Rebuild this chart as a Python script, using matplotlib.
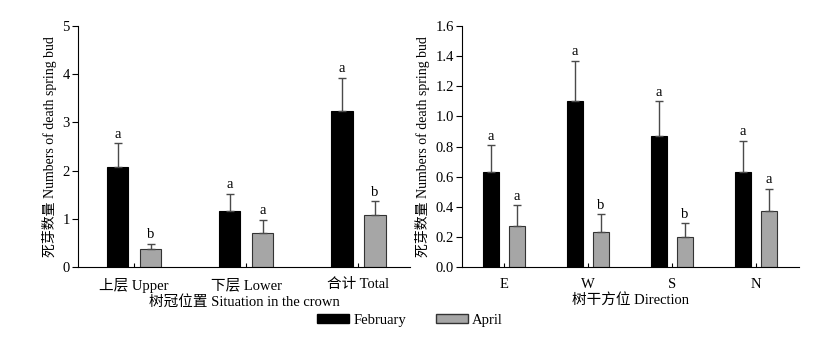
import matplotlib
matplotlib.use("Agg")
import matplotlib.pyplot as plt
import numpy as np
from matplotlib.patches import Patch

plt.rcParams['font.family'] = ['Liberation Serif', 'Noto Sans CJK SC']

# crown position panel
crown_labels = ["上层 Upper", "下层 Lower", "合计 Total"]
crown_feb = [2.07, 1.17, 3.23]
crown_feb_err = [0.50, 0.35, 0.70]
crown_apr = [0.37, 0.70, 1.07]
crown_apr_err = [0.11, 0.28, 0.30]
crown_feb_sig = ["a", "a", "a"]
crown_apr_sig = ["b", "a", "b"]

# trunk direction panel
dir_labels = ["E", "W", "S", "N"]
dir_feb = [0.63, 1.10, 0.87, 0.63]
dir_feb_err = [0.18, 0.27, 0.23, 0.21]
dir_apr = [0.27, 0.23, 0.20, 0.37]
dir_apr_err = [0.14, 0.12, 0.09, 0.15]
dir_feb_sig = ["a", "a", "a", "a"]
dir_apr_sig = ["a", "b", "b", "a"]

gray = "#a6a6a6"
errc = "#4a4a4a"

fig = plt.figure(figsize=(8.2, 3.37), dpi=100)
ax1 = fig.add_axes([0.0951, 0.2077, 0.405, 0.715])
ax2 = fig.add_axes([0.5634, 0.2077, 0.411, 0.715])


def panel(ax, labels, feb, feb_err, apr, apr_err, feb_sig, apr_sig,
          off, w, xmax, ymax, step, fmt, pad):
    x = np.arange(len(labels))
    ax.bar(x - off, feb, w, color="black", edgecolor="black", lw=0.8)
    ax.bar(x + off, apr, w, color=gray, edgecolor="#333333", lw=0.8)
    ax.errorbar(x - off, feb, yerr=[np.zeros(len(feb)), feb_err], fmt="none",
                ecolor=errc, elinewidth=1.0, capsize=3, capthick=1.0)
    ax.errorbar(x + off, apr, yerr=[np.zeros(len(apr)), apr_err], fmt="none",
                ecolor=errc, elinewidth=1.0, capsize=3, capthick=1.0)
    for i in range(len(labels)):
        ax.text(x[i] - off, feb[i] + feb_err[i] + pad, feb_sig[i],
                ha="center", va="bottom", fontsize=10.5)
        ax.text(x[i] + off, apr[i] + apr_err[i] + pad, apr_sig[i],
                ha="center", va="bottom", fontsize=10.5)
    ax.set_xlim(-0.5, xmax)
    ax.set_ylim(0, ymax)
    ax.set_yticks(np.arange(0, ymax + step / 2, step))
    ax.set_yticklabels([fmt.format(v) for v in np.arange(0, ymax + step / 2, step)],
                       fontsize=10.5)
    ax.set_xticks(x)
    ax.set_xticklabels(labels, fontsize=10.5)
    ax.tick_params(axis="x", direction="in", length=3, pad=8)
    ax.tick_params(axis="y", direction="out", length=4, pad=2)
    for s in ["top", "right"]:
        ax.spines[s].set_visible(False)
    ax.set_ylabel("死芽数量 Numbers of death spring bud", fontsize=10, labelpad=4)


panel(ax1, crown_labels, crown_feb, crown_feb_err, crown_apr, crown_apr_err,
      crown_feb_sig, crown_apr_sig, 0.147, 0.19, 2.46, 5, 1, "{:.0f}", 0.05)
ax1.set_xlabel("树冠位置 Situation in the crown", fontsize=10.5, labelpad=1)

panel(ax2, dir_labels, dir_feb, dir_feb_err, dir_apr, dir_apr_err,
      dir_feb_sig, dir_apr_sig, 0.155, 0.19, 3.51, 1.6, 0.2, "{:.1f}", 0.015)
ax2.set_xlabel("树干方位 Direction", fontsize=10.5, labelpad=1)

handles = [Patch(facecolor="black", edgecolor="black"),
           Patch(facecolor=gray, edgecolor="#333333")]
fig.legend(handles, ["February", "April"], loc="center", ncol=2,
           bbox_to_anchor=(0.5, 0.05), frameon=False, fontsize=10.5,
           handlelength=2.2, handleheight=0.6, columnspacing=2.0,
           handletextpad=0.3)

fig.savefig("out.png", dpi=100)
